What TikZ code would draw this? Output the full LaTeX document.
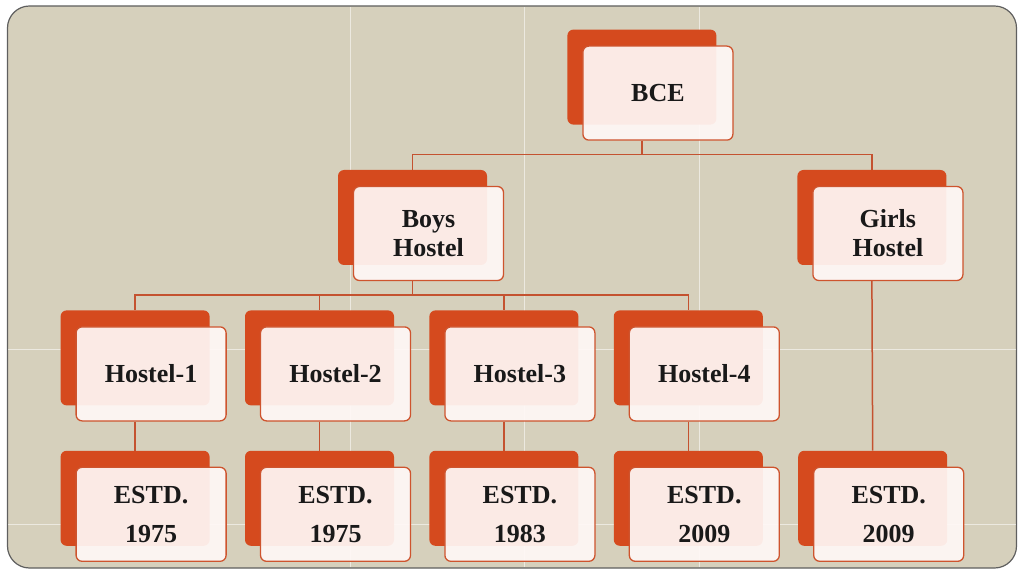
\documentclass[tikz,border=0pt]{standalone}
\usepackage{fontspec}
\setmainfont{Liberation Serif}
\usepackage{tikz}
\usetikzlibrary{positioning}

\definecolor{slidebg}{RGB}{214,208,188}
\definecolor{slideedge}{RGB}{95,95,95}
\definecolor{brick}{RGB}{213,74,30}
\definecolor{brickedge}{RGB}{206,84,46}
\definecolor{paper}{RGB}{255,248,246}
\definecolor{linkcol}{RGB}{196,82,48}

\tikzset{
	backbox/.style={rectangle, rounded corners=6pt, fill=brick, minimum width=149pt, minimum height=95pt, inner sep=0pt},
	frontbox/.style={rectangle, rounded corners=6pt, draw=brickedge, line width=1.3pt, fill=paper, fill opacity=0.92, text opacity=1, minimum width=150pt, minimum height=94pt, inner sep=0pt, align=center, text=black!90, font=\fontsize{26}{29}\selectfont\bfseries},
	link/.style={draw=linkcol, line width=1.5pt},
	weave/.style={draw=white, opacity=0.55, line width=1pt}
}

\begin{document}
\begin{tikzpicture}[x=1pt, y=1pt, node distance=45pt and 35pt]
		\useasboundingbox (0,0) rectangle (1024,576);
		\draw[rounded corners=22pt, fill=slidebg, draw=slideedge, line width=1.2pt] (7.5,8) rectangle (1016.5,570);
		\draw[weave] (350,9) -- (350,569) (524,9) -- (524,569) (699,9) -- (699,569);
		\draw[weave] (8,227) -- (1016,227) (8,52) -- (1016,52);

		% back plates
		\node[backbox] (boysback) at (412.5,358.5) {};
		\node[backbox, right=310pt of boysback] (girlsback) {};
		\node[backbox, above right=45pt and 80pt of boysback] (bceback) {};

		\node[backbox, below left=45pt and 128pt of boysback] (h1back) {};
		\node[backbox, right=of h1back] (h2back) {};
		\node[backbox, right=of h2back] (h3back) {};
		\node[backbox, right=of h3back] (h4back) {};

		\node[backbox, below=of h1back] (e1back) {};
		\node[backbox, below=of h2back] (e2back) {};
		\node[backbox, below=of h3back] (e3back) {};
		\node[backbox, below=of h4back] (e4back) {};
		\node[backbox, right=of e4back] (e5back) {};

		% front cards
		\node[frontbox] (bce) at ([shift={(16,-16)}]bceback) {BCE};
		\node[frontbox] (boys) at ([shift={(16,-16)}]boysback) {Boys\\Hostel};
		\node[frontbox] (girls) at ([shift={(16,-16)}]girlsback) {Girls\\Hostel};

		\node[frontbox] (h1) at ([shift={(16,-16)}]h1back) {Hostel-1};
		\node[frontbox] (h2) at ([shift={(16,-16)}]h2back) {Hostel-2};
		\node[frontbox] (h3) at ([shift={(16,-16)}]h3back) {Hostel-3};
		\node[frontbox] (h4) at ([shift={(16,-16)}]h4back) {Hostel-4};

		\node[frontbox] (e1) at ([shift={(16,-16)}]e1back) {ESTD.\\[10pt]1975};
		\node[frontbox] (e2) at ([shift={(16,-16)}]e2back) {ESTD.\\[10pt]1975};
		\node[frontbox] (e3) at ([shift={(16,-16)}]e3back) {ESTD.\\[10pt]1983};
		\node[frontbox] (e4) at ([shift={(16,-16)}]e4back) {ESTD.\\[10pt]2009};
		\node[frontbox] (e5) at ([shift={(16,-16)}]e5back) {ESTD.\\[10pt]2009};

		% tree links
		\draw[link] (bceback |- bce.south) -- ++(0,-14) -| (boysback.north);
		\draw[link] (bceback |- bce.south) -- ++(0,-14) -| (girlsback.north);

		\draw[link] (boysback |- boys.south) -- ++(0,-14) -| (h1back.north);
		\draw[link] (boysback |- boys.south) -- ++(0,-14) -| (h2back.north);
		\draw[link] (boysback |- boys.south) -- ++(0,-14) -| (h3back.north);
		\draw[link] (boysback |- boys.south) -- ++(0,-14) -| (h4back.north);

		\draw[link] (h1back |- h1.south) -- (e1back.north);
		\draw[link] (h2back |- h2.south) -- (e2back.north);
		\draw[link] (h3back |- h3.south) -- (e3back.north);
		\draw[link] (h4back |- h4.south) -- (e4back.north);
		\draw[link] (girlsback |- girls.south) -- (e5back.north);
\end{tikzpicture}
\end{document}
